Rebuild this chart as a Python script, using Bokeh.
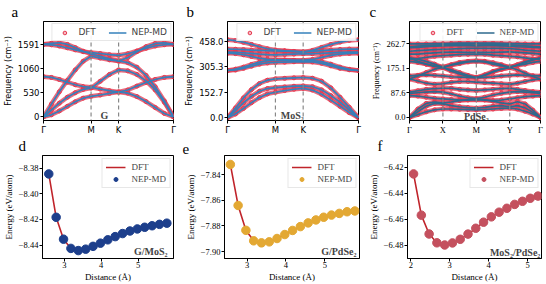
from bokeh.plotting import figure
from bokeh.layouts import row, column
from bokeh.models import (FixedTicker, Span, Label, Legend, LegendItem, Range1d,
                          CustomJSTickFormatter)
from bokeh.embed import file_html
from bokeh.resources import INLINE

SANS = "DejaVu Sans"
SERIF = "Liberation Serif"

# ---------------- (a) graphene phonons ----------------
g_k = [0.0, 0.096, 0.192, 0.289, 0.385, 0.481, 0.577, 0.688, 0.800, 0.911,
       1.022, 1.133, 1.244, 1.355, 1.466, 1.577]
g_path = [0.0, 0.577, 0.911, 1.577]
g_path_labels = ["Γ", "M", "K", "Γ"]
g_yticks = [0, 530, 1060, 1591]
g_ytick_labels = ["0", "530", "1060", "1591"]
g_za = [0, 45, 130, 230, 330, 410, 450, 480, 515, 545, 520, 445, 335, 205, 75, 0]
g_ta = [0, 150, 300, 430, 530, 600, 630, 780, 930, 1030, 1010, 930, 790, 590, 320, 0]
g_zo = [881, 865, 820, 760, 705, 665, 650, 610, 575, 545, 590, 675, 755, 820, 865, 881]
g_la = [0, 280, 550, 800, 1030, 1220, 1330, 1290, 1250, 1225, 1190, 1090, 910, 660, 350, 0]
g_lo = [1591, 1615, 1625, 1590, 1520, 1440, 1380, 1330, 1275, 1225, 1300, 1430, 1540, 1610, 1625, 1591]
g_to = [1591, 1580, 1555, 1515, 1470, 1430, 1410, 1390, 1365, 1350, 1385, 1445, 1505, 1555, 1582, 1591]

# ---------------- (b) MoS2 phonons ----------------
m_k = g_k
m_path = g_path
m_path_labels = ["Γ", "M", "K", "Γ"]
m_yticks = [0.0, 152.7, 305.3, 458.0]
m_ytick_labels = ["0.0", "152.7", "305.3", "458.0"]
m_za = [0, 22, 55, 90, 120, 142, 152, 162, 170, 175, 165, 140, 105, 68, 30, 0]
m_ta = [0, 42, 88, 128, 158, 174, 180, 184, 188, 190, 185, 166, 132, 92, 46, 0]
m_la = [0, 58, 118, 168, 204, 224, 232, 235, 238, 240, 236, 218, 178, 122, 62, 0]
m_o1 = [282, 285, 295, 308, 320, 327, 330, 332, 334, 335, 333, 325, 310, 295, 286, 282]
m_o2 = [282, 290, 302, 318, 332, 341, 345, 345, 343, 342, 341, 335, 320, 302, 289, 282]
m_o3 = [385, 383, 376, 366, 356, 349, 346, 344, 343, 342, 348, 360, 372, 380, 384, 385]
m_o4 = [392, 391, 388, 384, 380, 377, 376, 378, 380, 382, 382, 384, 387, 390, 392, 392]
m_o5 = [410, 409, 407, 404, 402, 400, 399, 398, 396, 394, 396, 401, 405, 408, 410, 410]
m_o6 = [466, 461, 451, 438, 424, 412, 405, 400, 396, 392, 402, 420, 438, 452, 462, 466]

# ---------------- (c) PdSe2 phonons ----------------
p_k = [0.0, 0.25, 0.5, 0.75, 1.0, 1.25, 1.5, 1.75, 2.0, 2.25, 2.5, 2.75, 3.0,
       3.23, 3.46, 3.69, 3.92]
p_path = [0.0, 1.0, 2.0, 3.0, 3.92]
p_path_labels = ["Γ", "X", "M", "Y", "Γ"]
p_yticks = [0.0, 87.6, 175.1, 262.7]
p_ytick_labels = ["0.0", "87.6", "175.1", "262.7"]
p_b01 = [0, 10, 20, 27, 30, 30, 29, 28, 27, 28, 30, 32, 33, 30, 22, 12, 0]
p_b02 = [0, 20, 40, 50, 48, 42, 38, 35, 33, 36, 40, 42, 38, 42, 34, 18, 0]
p_b03 = [0, 30, 50, 55, 52, 55, 60, 63, 65, 63, 58, 52, 48, 56, 48, 26, 0]
p_b04 = [78, 76, 72, 68, 66, 64, 62, 62, 63, 62, 60, 62, 66, 70, 74, 76, 78]
p_b05 = [86, 88, 90, 92, 90, 84, 76, 70, 67, 72, 80, 86, 90, 92, 90, 88, 86]
p_b06 = [90, 95, 100, 103, 104, 104, 100, 98, 96, 98, 100, 103, 104, 100, 96, 92, 90]
p_b07 = [137, 130, 122, 118, 120, 125, 128, 128, 126, 124, 122, 120, 118, 122, 128, 134, 137]
p_b08 = [148, 150, 152, 150, 148, 145, 144, 143, 142, 143, 145, 148, 150, 152, 150, 149, 148]
p_b09 = [137, 148, 160, 172, 178, 165, 155, 146, 142, 150, 162, 172, 178, 170, 158, 146, 137]
p_b10 = [212, 200, 190, 182, 178, 170, 160, 150, 142, 152, 164, 172, 178, 186, 196, 205, 212]
p_b11 = [212, 208, 200, 190, 178, 188, 196, 200, 202, 200, 195, 188, 178, 188, 198, 206, 212]
p_b12 = [200, 196, 190, 184, 180, 186, 192, 198, 200, 198, 190, 184, 180, 185, 190, 196, 200]
p_b13 = [207, 210, 214, 218, 220, 222, 224, 225, 226, 225, 222, 220, 218, 216, 212, 209, 207]
p_b14 = [226, 226, 228, 230, 232, 233, 233, 232, 232, 232, 232, 233, 234, 232, 230, 228, 226]
p_b15 = [236, 238, 240, 242, 243, 244, 245, 246, 246, 246, 246, 246, 245, 243, 240, 238, 236]
p_b16 = [249, 250, 252, 254, 255, 256, 256, 256, 255, 256, 256, 255, 254, 252, 251, 250, 249]
p_b17 = [252, 254, 256, 258, 259, 260, 260, 259, 258, 259, 260, 260, 259, 257, 255, 253, 252]
p_b18 = [262, 262, 262, 263, 263, 264, 265, 265, 265, 265, 265, 264, 263, 263, 262, 262, 262]

# ---------------- (d)-(f) binding curves ----------------
d_dist = [2.58, 2.78, 2.98, 3.18, 3.38, 3.58, 3.78, 3.98, 4.18, 4.38, 4.58,
          4.78, 4.98, 5.18, 5.38, 5.58, 5.78]
d_energy = [-8.3844, -8.4183, -8.4354, -8.4426, -8.4443, -8.4432, -8.4410, -8.4385,
            -8.4359, -8.4334, -8.4310, -8.4290, -8.4274, -8.4261, -8.4249, -8.4238, -8.4229]
d_xticks = [3, 4, 5]
d_yticks = [-8.44, -8.42, -8.40, -8.38]

e_dist = [2.57, 2.77, 2.97, 3.17, 3.37, 3.57, 3.77, 3.97, 4.17, 4.37, 4.57,
          4.77, 4.97, 5.17, 5.37, 5.57, 5.77]
e_energy = [-7.8320, -7.8640, -7.8834, -7.8916, -7.8932, -7.8924, -7.8898, -7.8867,
            -7.8835, -7.8805, -7.8776, -7.8753, -7.8732, -7.8715, -7.8702, -7.8689, -7.8683]
e_xticks = [3, 4, 5]
e_yticks = [-7.90, -7.88, -7.86, -7.84]

f_dist = [2.07, 2.27, 2.47, 2.67, 2.87, 3.07, 3.27, 3.47, 3.67, 3.87, 4.07,
          4.27, 4.47, 4.67, 4.87, 5.07, 5.27]
f_energy = [-6.4252, -6.4570, -6.4715, -6.4783, -6.4800, -6.4784, -6.4756, -6.4716,
            -6.4671, -6.4624, -6.4583, -6.4547, -6.4517, -6.4487, -6.4463, -6.4440, -6.4423]
f_xticks = [2, 3, 4, 5]
f_yticks = [-6.48, -6.46, -6.44, -6.42]

RED = "#e63950"
BLUE = "#3580bb"
TEAL = "#2e6a8e"
DARKRED = "#c0242b"

TOP_H = 137
BOT_H = 147


def style(p, font, tick_size, label_size, x_standoff, x_label_standoff):
    p.grid.visible = False
    p.outline_line_color = "black"
    p.outline_line_width = 1
    p.outline_line_alpha = 1
    p.background_fill_color = "white"
    p.border_fill_color = "white"
    for ax in (p.xaxis[0], p.yaxis[0]):
        ax.major_label_text_font = font
        ax.major_label_text_font_size = tick_size
        ax.major_label_text_color = "black"
        ax.axis_label_text_font = font
        ax.axis_label_text_font_size = label_size
        ax.axis_label_text_font_style = "normal"
        ax.axis_label_text_color = "black"
        ax.major_tick_out = 3
        ax.major_tick_in = 0
        ax.minor_tick_line_color = None
        ax.major_label_standoff = 1
        ax.axis_label_standoff = 2
        ax.axis_line_color = "black"
        ax.major_tick_line_color = "black"
    p.xaxis.major_label_standoff = x_standoff
    p.xaxis.axis_label_standoff = x_label_standoff


def letter(p, text, x, mbl):
    # panel letter as a left-aligned title shifted into the left border
    p.title.text = text
    p.title.align = "left"
    p.title.offset = x - mbl
    p.title.text_font = SERIF
    p.title.text_font_size = "15px"
    p.title.text_font_style = "normal"
    p.title.text_color = "black"
    p.title.vertical_align = "top"
    p.title.standoff = 0


def band_panel(width, mbl, mbr, k, bands, path, path_labels, yticks, ytick_labels,
               yr, font, line_color, tag, tag_x, tag_y, let, let_x):
    p = figure(width=width, height=TOP_H, x_range=Range1d(k[0], k[-1]),
               y_range=Range1d(*yr), output_backend="svg", toolbar_location=None,
               min_border_left=mbl, min_border_right=mbr, min_border_top=21,
               min_border_bottom=15)
    style(p, font, "8.5px", "8px", 1, 0)
    letter(p, let, let_x, mbl)
    p.xaxis.ticker = FixedTicker(ticks=path)
    p.xaxis.major_label_overrides = dict(zip(path, path_labels))
    p.yaxis.ticker = FixedTicker(ticks=yticks)
    p.yaxis.major_label_overrides = dict(zip(yticks, ytick_labels))
    p.yaxis.axis_label = "Frequency (cm⁻¹)"
    for xv in path[1:-1]:
        p.add_layout(Span(location=xv, dimension="height", line_color="#888888",
                          line_dash="4 3", line_width=1.2))
    dots = None
    for b in bands:
        p.line(k, b, line_color=RED, line_width=4.5, line_alpha=0.75)
        dots = p.scatter(k, b, marker="circle", size=4, line_color=RED,
                         fill_color=RED, fill_alpha=0.35, line_width=1)
    nep = None
    for b in bands:
        nep = p.line(k, b, line_color=line_color, line_width=1.7)
    leg = Legend(items=[LegendItem(label="DFT", renderers=[dots]),
                        LegendItem(label="NEP-MD", renderers=[nep])],
                 orientation="horizontal", location="top_right",
                 label_text_font=font, label_text_font_size="9px",
                 glyph_width=18, glyph_height=9, label_standoff=5, spacing=10,
                 padding=3, margin=2, label_height=9,
                 border_line_color="#d0d0d0", background_fill_alpha=0.9)
    p.add_layout(leg)
    p.add_layout(Label(x=tag_x, y=tag_y, text=tag, text_font=SERIF,
                       text_font_size="10px", text_font_style="bold",
                       text_align="center", text_baseline="alphabetic"))
    return p


def energy_panel(width, mbl, mbr, dist, energy, xr, yr, xticks, yticks, color,
                 tag, tag_x, tag_y, let, let_x):
    p = figure(width=width, height=BOT_H, x_range=Range1d(*xr), y_range=Range1d(*yr),
               output_backend="svg", toolbar_location=None,
               min_border_left=mbl, min_border_right=mbr, min_border_top=18,
               min_border_bottom=25)
    style(p, SERIF, "8.5px", "9px", 0, 1)
    letter(p, let, let_x, mbl)
    p.xaxis.ticker = FixedTicker(ticks=xticks)
    p.yaxis.ticker = FixedTicker(ticks=yticks)
    p.yaxis.formatter = CustomJSTickFormatter(
        code="return tick.toFixed(2).replace('-', '\u2212')")
    p.xaxis.axis_label = "Distance (Å)"
    p.yaxis.axis_label = "Energy (eV/atom)"
    ln = p.line(dist, energy, line_color=DARKRED, line_width=1.6)
    pts = p.scatter(dist, energy, marker="circle", size=8.5, fill_color=color,
                    line_color=color)
    leg = Legend(items=[LegendItem(label="DFT", renderers=[ln]),
                        LegendItem(label="NEP-MD", renderers=[pts])],
                 location="top_right", label_text_font=SERIF,
                 label_text_font_size="9px", glyph_width=20, glyph_height=10,
                 label_standoff=6, spacing=2, padding=3, margin=3, label_height=10,
                 border_line_color="#d0d0d0", background_fill_alpha=0.9)
    p.add_layout(leg)
    p.add_layout(Label(x=tag_x, y=tag_y, text=tag, text_font=SERIF,
                       text_font_size="10px", text_font_style="bold",
                       text_align="right", text_baseline="alphabetic"))
    return p


pa = band_panel(182, 38, 9, g_k, [g_za, g_ta, g_zo, g_la, g_lo, g_to], g_path,
                g_path_labels, g_yticks, g_ytick_labels, (-80, 2092), SANS, BLUE,
                "G", 0.74, 40, "a", 6)
pb = band_panel(182, 44, 6, m_k, [m_za, m_ta, m_la, m_o1, m_o2, m_o3, m_o4, m_o5, m_o6],
                m_path, m_path_labels, m_yticks, m_ytick_labels, (-17, 575), SANS, BLUE,
                "MoS₂", 0.78, 10, "b", 3)
pc = band_panel(182, 45, 6, p_k,
                [p_b01, p_b02, p_b03, p_b04, p_b05, p_b06, p_b07, p_b08, p_b09,
                 p_b10, p_b11, p_b12, p_b13, p_b14, p_b15, p_b16, p_b17, p_b18],
                p_path, p_path_labels, p_yticks, p_ytick_labels, (-11, 342), SERIF,
                TEAL, "PdSe₂", 2.0, 5, "c", 5)

pd = energy_panel(182, 36, 9, d_dist, d_energy, (2.41, 5.96), (-8.4505, -8.370),
                  d_xticks, d_yticks, "#1d3f8c", "G/MoS₂", 5.80, -8.4452, "d", 12)
pe = energy_panel(182, 42, 5, e_dist, e_energy, (2.42, 5.89), (-7.9054, -7.825),
                  e_xticks, e_yticks, "#e3a833", "G/PdSe₂", 5.81, -7.9003, "e", 0)
pf = energy_panel(182, 43, 5, f_dist, f_energy, (1.914, 5.36), (-6.4904, -6.411),
                  f_xticks, f_yticks, "#c4505e", "MoS₂/PdSe₂", 5.33, -6.4854, "f", 13)

layout = column(row(pa, pb, pc), row(pd, pe, pf))
open("out.html", "w").write(file_html(layout, INLINE))
